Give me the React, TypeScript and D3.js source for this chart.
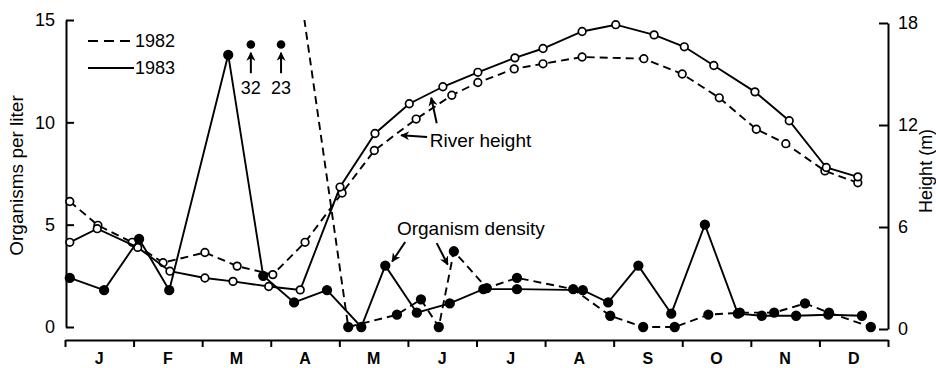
import React, { useEffect, useRef } from 'react';
import * as d3 from 'd3';

// x positions are in months from 1 Jan (0 = start of J, 12 = end of D)
const months = ['J', 'F', 'M', 'A', 'M', 'J', 'J', 'A', 'S', 'O', 'N', 'D'];

const density1983X = [0.07, 0.57, 1.08, 1.52, 2.38, 2.89, 3.34, 3.82, 4.32, 4.67, 5.13, 5.61, 6.1, 6.59, 7.55, 7.92, 8.36, 8.84, 9.33, 9.81, 10.16, 10.66, 11.13, 11.62];
const density1983 = [2.4, 1.8, 4.3, 1.8, 13.3, 2.5, 1.2, 1.8, 0, 3.0, 0.7, 1.15, 1.85, 1.85, 1.8, 1.2, 3.0, 0.65, 5.0, 0.65, 0.55, 0.55, 0.6, 0.55];

const density1982X = [2.71, 3.15, 4.13, 4.84, 5.19, 5.45, 5.67, 6.15, 6.59, 7.41, 7.95, 8.43, 8.89, 9.38, 9.84, 10.34, 10.79, 11.14, 11.75];
const density1982 = [32, 23, 0, 0.6, 1.35, 0, 3.7, 1.9, 2.4, 1.85, 0.55, 0, 0, 0.6, 0.7, 0.7, 1.15, 0.7, 0];

const river1982X = [0.07, 0.48, 0.98, 1.43, 2.04, 2.51, 3.03, 3.5, 4.04, 4.51, 5.12, 5.64, 6.02, 6.55, 6.97, 7.54, 8.44, 9.0, 9.54, 10.08, 10.51, 11.08, 11.56];
const river1982 = [7.5, 6.1, 5.1, 3.9, 4.5, 3.7, 3.2, 5.1, 8.0, 10.5, 12.35, 13.75, 14.5, 15.3, 15.6, 16.0, 15.9, 15.0, 13.6, 11.75, 10.9, 9.3, 8.6];

const river1983X = [0.07, 0.47, 1.06, 1.53, 2.04, 2.45, 2.97, 3.43, 4.01, 4.52, 5.02, 5.51, 6.02, 6.56, 6.97, 7.54, 8.03, 8.59, 9.03, 9.46, 10.06, 10.56, 11.1, 11.56];
const river1983 = [5.1, 5.9, 4.8, 3.4, 3.0, 2.8, 2.5, 2.3, 8.35, 11.5, 13.25, 14.25, 15.1, 15.95, 16.5, 17.5, 17.9, 17.3, 16.6, 15.5, 13.95, 12.25, 9.5, 8.95];

const leftTicks = [0, 5, 10, 15];
const rightTicks = [0, 6, 12, 18];

const App: React.FC = () => {
  const ref = useRef<SVGSVGElement | null>(null);

  useEffect(() => {
    const svg = d3.select(ref.current);
    svg.selectAll('*').remove();

    const font = '"Liberation Sans", Arial, Helvetica, sans-serif';
    const x = d3.scaleLinear().domain([0, 12]).range([65, 888]);
    const yL = d3.scaleLinear().domain([0, 15]).range([327, 20]);
    const yR = d3.scaleLinear().domain([0, 18]).range([329, 23]);

    const defs = svg.append('defs');
    defs.append('clipPath').attr('id', 'plotclip')
      .append('rect').attr('x', 60).attr('y', yL(15)).attr('width', 840).attr('height', 330);
    defs.append('marker')
      .attr('id', 'arrow')
      .attr('viewBox', '0 0 10 10')
      .attr('refX', 9).attr('refY', 5)
      .attr('markerWidth', 4.5).attr('markerHeight', 4.5)
      .attr('markerUnits', 'strokeWidth')
      .attr('orient', 'auto')
      .append('path').attr('d', 'M0,0 L10,5 L0,10 L3,5 z').attr('fill', '#000');

    // axes
    const gl = svg.append('g').attr('transform', `translate(${x(0) + 1},0)`)
      .call(d3.axisLeft(yL).tickValues(leftTicks).tickSize(-8).tickSizeOuter(0).tickPadding(11).tickFormat(d3.format('d')));
    const gr = svg.append('g').attr('transform', `translate(${x(12)},0)`)
      .call(d3.axisRight(yR).tickValues(rightTicks).tickSize(-9).tickSizeOuter(0).tickPadding(10).tickFormat(d3.format('d')));
    const gb = svg.append('g').attr('transform', 'translate(0,340)')
      .call(d3.axisBottom(x).tickValues(d3.range(0, 13)).tickSize(7).tickSizeOuter(0).tickFormat(() => ''));
    [gl, gr, gb].forEach(g => {
      g.selectAll('path, line').attr('stroke', '#000').attr('stroke-width', 2);
      g.selectAll('text').attr('fill', '#000').style('font-family', font).style('font-size', '18px');
    });

    svg.append('g').selectAll('text').data(months).enter().append('text')
      .attr('x', (d, i) => x(i + 0.5))
      .attr('y', 364)
      .attr('text-anchor', 'middle')
      .style('font-family', font).style('font-size', '16px').style('font-weight', 'bold')
      .text(d => d);

    svg.append('text')
      .attr('transform', `translate(23,${yL(7.5) + 2}) rotate(-90)`)
      .attr('text-anchor', 'middle')
      .style('font-family', font).style('font-size', '19px')
      .text('Organisms per liter');
    svg.append('text')
      .attr('transform', `translate(932,${yR(9.3)}) rotate(-90)`)
      .attr('text-anchor', 'middle')
      .style('font-family', font).style('font-size', '18px')
      .text('Height (m)');

    const plot = svg.append('g').attr('clip-path', 'url(#plotclip)');

    const drawSeries = (xs: number[], vs: number[], ys: d3.ScaleLinear<number, number>, dashed: boolean, filled: boolean) => {
      const pts = xs.map((d, i) => [d, vs[i]] as [number, number]);
      plot.append('path')
        .attr('d', d3.line<[number, number]>().x(d => x(d[0])).y(d => ys(d[1]))(pts) || '')
        .attr('fill', 'none')
        .attr('stroke', '#000')
        .attr('stroke-width', 1.9)
        .attr('stroke-dasharray', dashed ? '8,5' : null);
      plot.append('g').selectAll('circle')
        .data(pts.filter(d => d[1] <= ys.domain()[1]))
        .enter().append('circle')
        .attr('cx', d => x(d[0]))
        .attr('cy', d => ys(d[1]))
        .attr('r', filled ? 4.3 : 3.8)
        .attr('fill', filled ? '#000' : '#fff')
        .attr('stroke', '#000')
        .attr('stroke-width', 1.7);
    };

    drawSeries(river1982X, river1982, yR, true, false);
    drawSeries(river1983X, river1983, yR, false, false);
    drawSeries(density1982X, density1982, yL, true, true);
    drawSeries(density1983X, density1983, yL, false, true);

    // off-scale 1982 values
    const off = density1982X.map((d, i) => ({ x: d, v: density1982[i] })).filter(d => d.v > 15);
    const offG = svg.append('g');
    off.forEach(d => {
      offG.append('circle').attr('cx', x(d.x)).attr('cy', yL(13.8)).attr('r', 4.3).attr('fill', '#000');
      offG.append('line')
        .attr('x1', x(d.x)).attr('x2', x(d.x))
        .attr('y1', yL(12.4)).attr('y2', yL(13.4))
        .attr('stroke', '#000').attr('stroke-width', 2)
        .attr('marker-end', 'url(#arrow)');
      offG.append('text')
        .attr('x', x(d.x)).attr('y', yL(11.7)).attr('dy', '0.35em')
        .attr('text-anchor', 'middle')
        .style('font-family', font).style('font-size', '18px')
        .text(String(d.v));
    });

    // legend
    const leg = svg.append('g');
    leg.append('line').attr('x1', 88).attr('x2', 130).attr('y1', 41).attr('y2', 41)
      .attr('stroke', '#000').attr('stroke-width', 1.9).attr('stroke-dasharray', '10,6');
    leg.append('line').attr('x1', 88).attr('x2', 134).attr('y1', 68).attr('y2', 68)
      .attr('stroke', '#000').attr('stroke-width', 1.9);
    leg.append('text').attr('x', 135).attr('y', 41).attr('dy', '0.35em')
      .style('font-family', font).style('font-size', '18px').text('1982');
    leg.append('text').attr('x', 135).attr('y', 68).attr('dy', '0.35em')
      .style('font-family', font).style('font-size', '18px').text('1983');

    // annotations
    const ann = svg.append('g');
    const arrow = (x1: number, y1: number, x2: number, y2: number) =>
      ann.append('line')
        .attr('x1', x1).attr('y1', y1).attr('x2', x2).attr('y2', y2)
        .attr('stroke', '#000').attr('stroke-width', 2)
        .attr('marker-end', 'url(#arrow)');

    ann.append('text').attr('x', x(4.84)).attr('y', yL(4.5))
      .style('font-family', font).style('font-size', '19px').text('Organism density');
    arrow(x(4.96), yL(4.15), x(4.77), yL(3.2));
    arrow(x(5.42), yL(4.1), x(5.58), yL(3.05));

    ann.append('text').attr('x', x(5.32)).attr('y', yR(10.7))
      .style('font-family', font).style('font-size', '19px').text('River height');
    arrow(x(5.28), yR(11.3), x(4.9), yR(11.4));
    arrow(x(5.42), yR(12.1), x(5.34), yR(13.6));
  }, []);

  return (
    <svg ref={ref} width={936} height={368}
      style={{ position: 'absolute', left: 0, top: 0, background: '#fff' }} />
  );
};

export default App;
